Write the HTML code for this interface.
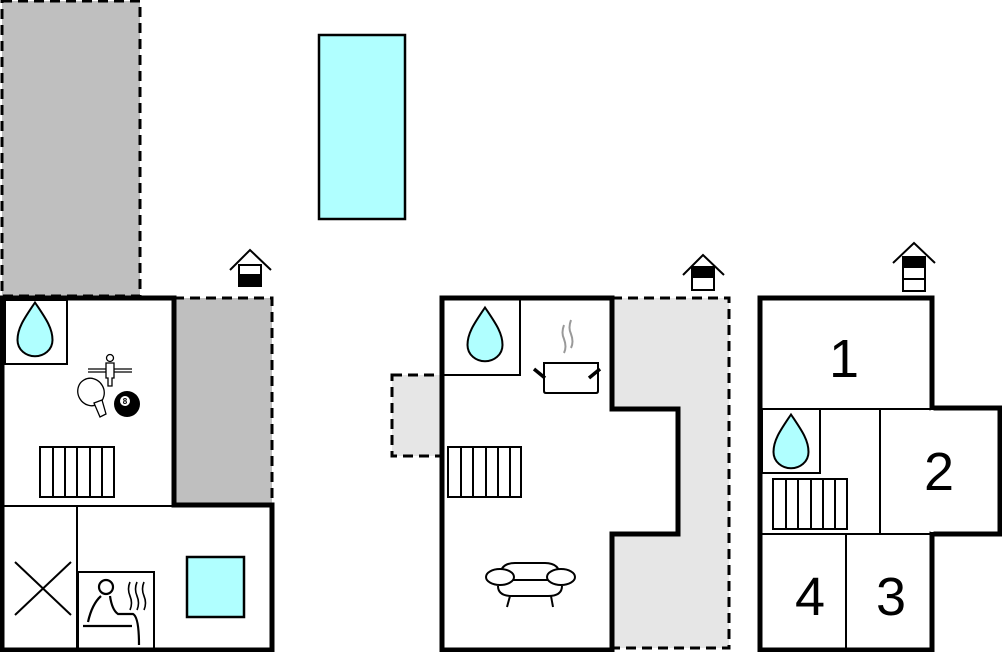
<!DOCTYPE html>
<html><head><style>body{margin:0;background:#fff}svg{display:block}</style></head><body>
<svg width="1002" height="652" viewBox="0 0 1002 652" xmlns="http://www.w3.org/2000/svg" font-family="Liberation Sans, sans-serif">
<defs>
<g id="drop"><path d="M0,-22 C-8,-10 -14,-2 -14,8 C-14,16 -7,21 0,21 C7,21 14,16 14,8 C14,-2 8,-10 0,-22Z" fill="#b0ffff" stroke="#000" stroke-width="1.6" transform="scale(1.25)"/></g>
</defs>
<rect x="2" y="1" width="138" height="295" fill="#bfbfbf" stroke="#000" stroke-width="3" stroke-dasharray="10,6"/>
<rect x="174" y="298" width="98" height="207" fill="#bfbfbf" stroke="#000" stroke-width="3" stroke-dasharray="10,6"/>
<rect x="319" y="35" width="86" height="184" fill="#b0ffff" stroke="#000" stroke-width="2.5"/>
<path d="M2,298 H174 V505 H272 V650 H2 Z" fill="#fff" stroke="#000" stroke-width="5"/>
<path d="M174,298 V505" stroke="#000" stroke-width="5"/>
<rect x="5" y="300" width="62" height="64" fill="none" stroke="#000" stroke-width="2"/>
<use href="#drop" x="35" y="330"/>
<line x1="2" y1="506" x2="174" y2="506" stroke="#000" stroke-width="2"/>
<line x1="77" y1="506" x2="77" y2="650" stroke="#000" stroke-width="2"/>
<rect x="78" y="572" width="76" height="78" fill="none" stroke="#000" stroke-width="2"/>
<rect x="187" y="557" width="57" height="60" fill="#b0ffff" stroke="#000" stroke-width="2.5"/>
<line x1="15" y1="562" x2="71" y2="615" stroke="#000" stroke-width="2"/>
<line x1="71" y1="562" x2="15" y2="615" stroke="#000" stroke-width="2"/>
<g fill="none" stroke="#000" stroke-width="2">
<rect x="40" y="447" width="74" height="50"/>
<line x1="53" y1="447" x2="53" y2="497"/><line x1="65" y1="447" x2="65" y2="497"/><line x1="77" y1="447" x2="77" y2="497"/><line x1="90" y1="447" x2="90" y2="497"/><line x1="102" y1="447" x2="102" y2="497"/>
</g>
<g fill="none" stroke="#000" stroke-width="1.3">
<line x1="88" y1="369" x2="132" y2="369"/><line x1="88" y1="372" x2="132" y2="372"/>
<circle cx="110" cy="358" r="3.5" fill="#fff"/>
<path d="M106,363 h8 v15 h-2 v8 h-4 v-8 h-2z" fill="#fff"/>
<ellipse cx="91" cy="392" rx="13" ry="14" transform="rotate(-30 91 392)" fill="#fff"/>
<path d="M94,403 l6,14 l6,-3 l-4,-14z" fill="#fff"/>
</g>
<circle cx="127" cy="404" r="13" fill="#000"/>
<circle cx="125" cy="401" r="5" fill="#fff"/>
<text x="125" y="404" font-size="8" text-anchor="middle" font-weight="bold">8</text>
<g fill="none" stroke="#000" stroke-width="2.2">
<circle cx="106" cy="587" r="7"/>
<path d="M101,596 Q92,604 88,622 M110,596 Q112,610 118,614 H133 Q139,617 139,645"/>
<line x1="83" y1="626" x2="132" y2="626"/>
<path d="M130,582 q-3,7 0,14 q3,7 0,14 M137,582 q-3,7 0,14 q3,7 0,14 M144,582 q-3,7 0,14 q3,7 0,14" stroke-width="1.6"/>
</g>
<g fill="none" stroke="#000" stroke-width="2">
<path d="M230,270 L250,250 L271,270"/><rect x="239" y="265" width="22" height="21" fill="#fff"/>
<rect x="239" y="275" width="22" height="11" fill="#000"/>
<path d="M683,275 L703,255 L724,275"/><rect x="692" y="267" width="22" height="23" fill="#fff"/>
<rect x="692" y="267" width="22" height="10" fill="#000"/>
<path d="M893,263 L914,243 L935,263"/><rect x="903" y="257" width="22" height="34" fill="#fff"/>
<rect x="903" y="257" width="22" height="10" fill="#000"/><line x1="903" y1="279" x2="925" y2="279"/>
</g>
<rect x="612" y="298" width="117" height="350" fill="#e6e6e6" stroke="#000" stroke-width="3" stroke-dasharray="10,6"/>
<rect x="392" y="375" width="50" height="81" fill="#e6e6e6" stroke="#000" stroke-width="3" stroke-dasharray="10,6"/>
<path d="M442,298 H612 V409 H678 V534 H612 V650 H442 Z" fill="#fff" stroke="#000" stroke-width="5"/>
<rect x="443" y="298" width="77" height="77" fill="none" stroke="#000" stroke-width="2"/>
<use href="#drop" x="485" y="335"/>
<g fill="none" stroke="#000" stroke-width="2">
<rect x="448" y="447" width="73" height="50"/>
<line x1="461" y1="447" x2="461" y2="497"/><line x1="473" y1="447" x2="473" y2="497"/><line x1="486" y1="447" x2="486" y2="497"/><line x1="498" y1="447" x2="498" y2="497"/><line x1="510" y1="447" x2="510" y2="497"/>
<path d="M544,363 h54 v28 q0,2 -2,2 h-50 q-2,0 -2,-2z"/>
<line x1="534" y1="369" x2="545" y2="378" stroke-width="3.5"/><line x1="600" y1="369" x2="589" y2="378" stroke-width="3.5"/>
<path d="M564,325 q-3,8 0,14 q3,8 0,14 M571,320 q-3,8 0,14 q3,8 0,14" stroke="#999"/>
<path d="M500,577 q0,-14 15,-14 h30 q15,0 15,14 M498,586 q0,10 14,10 h36 q14,0 14,-10 M507,580 h48"/>
<ellipse cx="500" cy="577" rx="14" ry="8" fill="#fff"/><ellipse cx="561" cy="577" rx="14" ry="8" fill="#fff"/>
<line x1="510" y1="596" x2="507" y2="607"/><line x1="551" y1="596" x2="553" y2="607"/>
</g>
<path d="M760,298 H932 V408 H1000 V534 H932 V650 H760 Z" fill="#fff" stroke="#000" stroke-width="5"/>
<g fill="none" stroke="#000" stroke-width="2">
<line x1="760" y1="409" x2="932" y2="409"/>
<line x1="880" y1="409" x2="880" y2="534"/>
<line x1="760" y1="534" x2="932" y2="534"/>
<line x1="846" y1="534" x2="846" y2="650"/>
<rect x="762" y="409" width="58" height="64"/>
<rect x="773" y="479" width="74" height="50"/>
<line x1="786" y1="479" x2="786" y2="529"/><line x1="798" y1="479" x2="798" y2="529"/><line x1="811" y1="479" x2="811" y2="529"/><line x1="823" y1="479" x2="823" y2="529"/><line x1="835" y1="479" x2="835" y2="529"/>
</g>
<line x1="932" y1="410" x2="932" y2="532" stroke="#fff" stroke-width="3"/>
<use href="#drop" x="791" y="442"/>
<g font-size="54" text-anchor="middle" fill="#000">
<text x="844" y="377">1</text>
<text x="939" y="490">2</text>
<text x="891" y="615">3</text>
<text x="810" y="615">4</text>
</g>
</svg>
</body></html>
